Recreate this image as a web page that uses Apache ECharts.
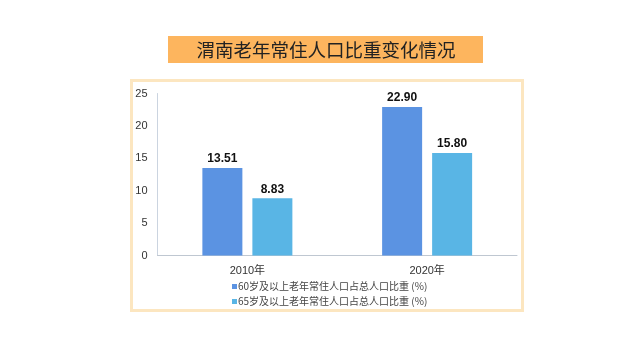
<!DOCTYPE html>
<html><head><meta charset="utf-8">
<script src="https://cdn.jsdelivr.net/npm/echarts@6/dist/echarts.min.js"></script>
<style>html,body{margin:0;padding:0;background:#fff}#c{width:640px;height:360px}</style>
</head><body><div id="c"></div>
<script>
const titleText = '渭南老年常住人口比重变化情况';
const categories = ['2010年', '2020年'];
const seriesNames = ['60岁及以上老年常住人口占总人口比重 (%)', '65岁及以上老年常住人口占总人口比重 (%)'];
const values60 = [13.51, 22.90];
const values65 = [8.83, 15.80];
const yTicks = [0, 5, 10, 15, 20, 25];

const chart = echarts.init(document.getElementById('c'), null, {renderer: 'canvas'});
const font = '"Liberation Sans", Arial, "Noto Sans CJK SC", sans-serif';
chart.setOption({
  animation: false,
  textStyle: {fontFamily: font},
  graphic: [
    {type: 'rect', shape: {x: 131.5, y: 80.5, width: 391, height: 230}, style: {fill: '#fff', stroke: '#FCE6C0', lineWidth: 3}, z: -10},
    {type: 'rect', shape: {x: 168, y: 36, width: 315, height: 27}, style: {fill: '#FDB55E'}, z: -10},
    {type: 'text', x: 326, y: 49.5, style: {text: titleText, fontSize: 18.5, fill: '#222', align: 'center', verticalAlign: 'middle', fontFamily: '"Noto Sans CJK SC", sans-serif'}}
  ],
  grid: {left: 157.5, right: 123, top: 93.5, bottom: 104.5, containLabel: false},
  legend: {
    orient: 'vertical', left: 227, top: 276, itemWidth: 5, itemHeight: 5, itemGap: 4, icon: 'rect',
    textStyle: {fontSize: 10, color: '#444', padding: [0, 0, 0, -4], fontFamily: '"Noto Sans CJK SC", sans-serif', lineHeight: 11},
    data: seriesNames
  },
  xAxis: {
    type: 'category', data: categories,
    axisLine: {lineStyle: {color: '#BFC7D1', width: 1}},
    axisTick: {show: false},
    axisLabel: {color: '#333', fontSize: 11, margin: 10}
  },
  yAxis: {
    type: 'value', min: 0, max: 25, interval: 5,
    axisLine: {show: true, lineStyle: {color: '#CBD4E0'}},
    axisTick: {show: false},
    splitLine: {show: false},
    axisLabel: {color: '#333', fontSize: 11, margin: 10,
      formatter: v => yTicks.includes(v) ? String(v) : ''}
  },
  series: [
    {name: seriesNames[0], type: 'bar', data: values60, barWidth: 40, barGap: '25%',
     itemStyle: {color: '#5B93E2'},
     label: {show: true, position: 'top', formatter: p => p.value.toFixed(2), color: '#111', fontWeight: 'bold', fontSize: 12, distance: 3}},
    {name: seriesNames[1], type: 'bar', data: values65, barWidth: 40,
     itemStyle: {color: '#59B5E5'},
     label: {show: true, position: 'top', formatter: p => p.value.toFixed(2), color: '#111', fontWeight: 'bold', fontSize: 12, distance: 3}}
  ]
});
</script></body></html>
